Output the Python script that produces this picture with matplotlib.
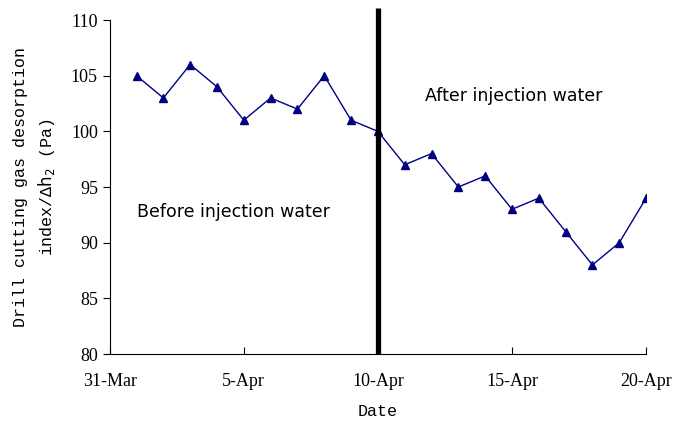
import matplotlib.pyplot as plt

# days counted from 31-Mar
days = list(range(1, 21))
index_vals = [105, 103, 106, 104, 101, 103, 102, 105, 101, 100,
              97, 98, 95, 96, 93, 94, 91, 88, 90, 94]
tick_days = [0, 5, 10, 15, 20]
tick_labels = ["31-Mar", "5-Apr", "10-Apr", "15-Apr", "20-Apr"]
injection_day = 10

fig = plt.figure(figsize=(6.73, 4.26), dpi=100)
ax = fig.add_axes([0.163, 0.169, 0.797, 0.784])

ax.plot(days, index_vals, color="#000080", linewidth=1, marker="^",
        markersize=5.5, markerfacecolor="#000080", markeredgecolor="#000080")

# injection line, runs a bit above the frame
ax.plot([injection_day, injection_day], [80, 111.1], color="black",
        linewidth=3.8, clip_on=False, solid_capstyle="butt")

ax.text(11.75, 103.2, "After injection water", fontsize=12.5, va="center")
ax.text(1.0, 92.8, "Before injection water", fontsize=12.5, va="center")

ax.set_xlim(0, 20)
ax.set_ylim(80, 110)
ax.set_yticks(range(80, 111, 5))
ax.set_xticks(tick_days)
ax.set_xticklabels(tick_labels)

serif = "Liberation Serif"
mono = "Liberation Mono"
for lab in ax.get_xticklabels() + ax.get_yticklabels():
    lab.set_fontfamily(serif)
    lab.set_fontsize(13)

ax.tick_params(axis="x", direction="in", length=5, pad=14)
ax.tick_params(axis="y", direction="out", length=5)
ax.spines["top"].set_visible(False)
ax.spines["right"].set_visible(False)

ax.set_xlabel("Date", fontfamily=mono, fontsize=12, labelpad=10)
ax.set_ylabel("Drill cutting gas desorption\nindex/\u0394$\\mathrm{h_2}$ (Pa)",
              fontfamily=mono, fontsize=12, labelpad=10, linespacing=1.5)

fig.savefig("out.png", dpi=100, facecolor="white")
